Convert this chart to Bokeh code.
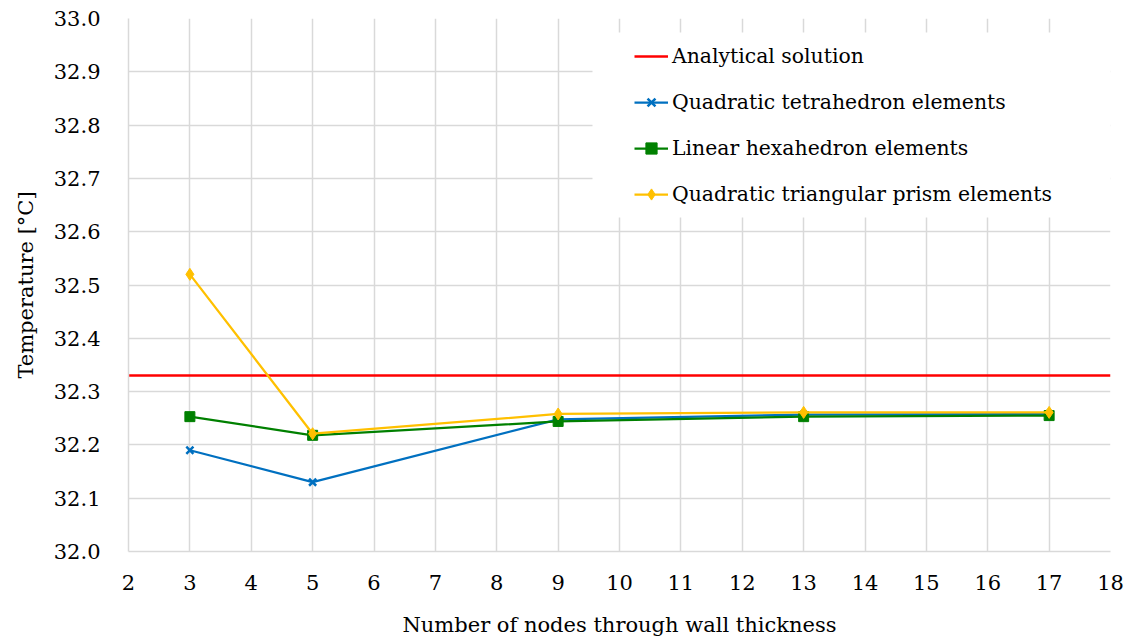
from bokeh.plotting import figure
from bokeh.models import Range1d, FixedTicker, NumeralTickFormatter, BoxAnnotation
from bokeh.embed import file_html
from bokeh.resources import INLINE

# ---- data ----
nodes = [3, 5, 9, 13, 17]
tetra = [32.19, 32.13, 32.248, 32.257, 32.258]
hexa = [32.253, 32.218, 32.244, 32.253, 32.255]
prism = [32.52, 32.221, 32.258, 32.261, 32.261]
analytical = 32.33
x_ticks = list(range(2, 19))
y_ticks = [32.0, 32.1, 32.2, 32.3, 32.4, 32.5, 32.6, 32.7, 32.8, 32.9, 33.0]
x_limits = [2, 18]
y_limits = [32.0, 33.0]

FONT = "DejaVu Serif"
RED = "#FF0000"
BLUE = "#0070C0"
GREEN = "#008000"
YELLOW = "#FFC000"
GRID = "#D9D9D9"

p = figure(width=1131, height=640, output_backend="svg", toolbar_location=None,
           x_range=Range1d(*x_limits), y_range=Range1d(*y_limits),
           min_border_left=128, min_border_right=21, min_border_top=18, min_border_bottom=89)
p.outline_line_color = None
p.background_fill_color = "white"
p.border_fill_color = "white"

# white panel behind the legend (screen units, relative to the frame)
legend_bg = BoxAnnotation(left=464, right=982, bottom=334, top=519,
                          left_units="screen", right_units="screen",
                          bottom_units="screen", top_units="screen",
                          fill_color="white", fill_alpha=1.0, line_color=None,
                          level="underlay")
p.add_layout(legend_bg)

# analytical solution across the whole x range
p.line(x_limits, [analytical] * 2, line_color=RED, line_width=2.5, legend_label="Analytical solution")

p.line(nodes, tetra, line_color=BLUE, line_width=2.25, legend_label="Quadratic tetrahedron elements")
p.scatter(nodes, tetra, marker="x", size=10, line_color=BLUE, line_width=2.5,
          legend_label="Quadratic tetrahedron elements")

p.line(nodes, hexa, line_color=GREEN, line_width=2.25, legend_label="Linear hexahedron elements")
p.scatter(nodes, hexa, marker="square", size=10, fill_color=GREEN, line_color=GREEN,
          legend_label="Linear hexahedron elements")

p.line(nodes, prism, line_color=YELLOW, line_width=2.25, legend_label="Quadratic triangular prism elements")
p.scatter(nodes, prism, marker="diamond", size=12, fill_color=YELLOW, line_color=YELLOW,
          legend_label="Quadratic triangular prism elements")

# axes
p.xaxis.ticker = FixedTicker(ticks=x_ticks)
p.yaxis.ticker = FixedTicker(ticks=y_ticks)
p.yaxis.formatter = NumeralTickFormatter(format="0.0")
for ax in (p.xaxis, p.yaxis):
    ax.axis_line_color = GRID
    ax.axis_line_width = 1.5
    ax.major_tick_line_color = None
    ax.minor_tick_line_color = None
    ax.major_label_text_font = FONT
    ax.major_label_text_font_size = "21px"
    ax.major_label_text_color = "black"
    ax.axis_label_text_font = FONT
    ax.axis_label_text_font_size = "21px"
    ax.axis_label_text_font_style = "normal"
    ax.axis_label_text_color = "black"
p.xaxis.axis_label = "Number of nodes through wall thickness"
p.yaxis.axis_label = "Temperature [°C]"
p.xaxis.major_label_standoff = 17
p.yaxis.major_label_standoff = 22
p.xaxis.axis_label_standoff = 20
p.yaxis.axis_label_standoff = 13

p.xgrid.grid_line_color = GRID
p.ygrid.grid_line_color = GRID
p.xgrid.grid_line_width = 1.5
p.ygrid.grid_line_width = 1.5

leg = p.legend[0]
leg.location = "top_right"
leg.margin = 24
leg.padding = 0
leg.border_line_color = None
leg.background_fill_color = "white"
leg.background_fill_alpha = 1.0
leg.label_text_font = FONT
leg.label_text_font_size = "20.4px"
leg.label_text_color = "black"
leg.glyph_width = 34
leg.glyph_height = 28
leg.label_height = 28
leg.label_standoff = 4
leg.label_width = 414
leg.spacing = 18

open("out.html", "w").write(file_html(p, INLINE))
